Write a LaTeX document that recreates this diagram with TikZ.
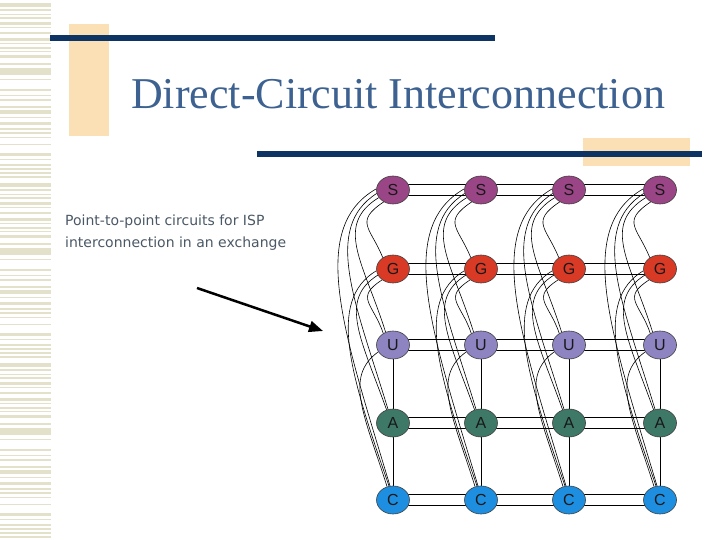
\documentclass[tikz,border=0pt]{standalone}
\usepackage{fontspec}
\setmainfont{Liberation Serif}
\newfontfamily\bodyfont{DejaVu Sans}
\newfontfamily\labelfont{Liberation Sans}
\usetikzlibrary{arrows.meta,backgrounds,shapes.geometric}
\definecolor{StripeTan}{HTML}{E3E1C9}
\definecolor{PeachTint}{HTML}{FCE0B5}
\definecolor{BarNavy}{HTML}{0D3463}
\definecolor{TitleBlue}{HTML}{3D6190}
\definecolor{BodyGray}{HTML}{4A5866}
\definecolor{IspS}{HTML}{9A4585}
\definecolor{IspG}{HTML}{D93A26}
\definecolor{IspU}{HTML}{8E84C2}
\definecolor{IspA}{HTML}{3E7866}
\definecolor{IspC}{HTML}{1E8FE0}

\begin{document}
\begin{tikzpicture}[x=1pt, y=-1pt,
  isp/.style={ellipse, draw=black!75, line width=0.6pt, minimum width=33pt, minimum height=28pt,
    inner sep=0pt, text=black!90, font=\labelfont\fontsize{16}{16}\selectfont},
  circuit/.style={draw=black, line width=0.6pt}]
  \useasboundingbox (0,0) rectangle (720,540);
  \foreach \o in {0,180,360}
    \foreach \y/\h in {3/4,9/2,14/1,17/2,22/3,27/1,32/2,38/3,43/1,47/2,51/1,55/3,63/2,68/7,79/1,89/2,95/1,
      99/2,106/2,110/4,117/1,122/3,128/2,132/2,137/1,144/1,153/3,159/1,164/2,168/2,172/2,176/2}
      \fill[StripeTan] (0,\o+\y) rectangle (51,\o+\y+\h);
  \fill[PeachTint] (69,24) rectangle (109,136);
  \fill[PeachTint] (583,138) rectangle (690,166);
  \fill[BarNavy] (50,35) rectangle (495,41);
  \fill[BarNavy] (257,151) rectangle (702,157);
  \node[font=\fontsize{44}{44}\selectfont, text=TitleBlue, anchor=base] (title) at (398,109)
    {Direct-Circuit Interconnection};
  \node[font=\bodyfont\fontsize{14}{22}\selectfont, text=BodyGray, anchor=north west, inner sep=0pt,
    align=left] (caption) at (65,215) {Point-to-point circuits for ISP\\interconnection in an exchange};
  \coordinate (arrowtail) at (197,288);
  \coordinate (arrowtip) at (323,331);
  \draw[line width=2.5pt, -{Triangle[length=14pt,width=11pt]}] (arrowtail) -- (arrowtip);
  \foreach \name/\y/\fillc in {S/190/IspS,G/269/IspG,U/345/IspU,A/423/IspA,C/500/IspC}
    \foreach \x [count=\c] in {393,481,569,660}
      \node[isp, fill=\fillc] (\name\c) at (\x,\y) {\name};
  \begin{scope}[on background layer]
    \foreach \name in {S,G,U,A,C}
      \foreach \c/\d in {1/2,2/3,3/4} {
        \draw[circuit] (\name\c.20) -- (\name\d.160);
        \draw[circuit] (\name\c.-20) -- (\name\d.200);
      }
    \foreach \c in {1,...,4} {
      \draw[circuit] (U\c.south) -- (A\c.north);
      \draw[circuit] (A\c.south) -- (C\c.north);
      \foreach \a/\b/\sa/\ea/\wa/\ka/\wb/\kb in {S/G/232/132/30/20/12/30, S/U/208/120/45/28/22/70,
        S/A/192/110/55/35/32/105, S/C/176/102/70/40/45/150, G/U/225/130/28/18/10/30,
        G/A/202/116/40/25/25/70, G/C/186/106/50/30/38/110, U/C/205/114/35/25/22/70}
        \draw[circuit] (\a\c.\sa) .. controls +(-\wa,\ka) and +(-\wb,-\kb) .. (\b\c.\ea);
    }
  \end{scope}
\end{tikzpicture}
\end{document}
